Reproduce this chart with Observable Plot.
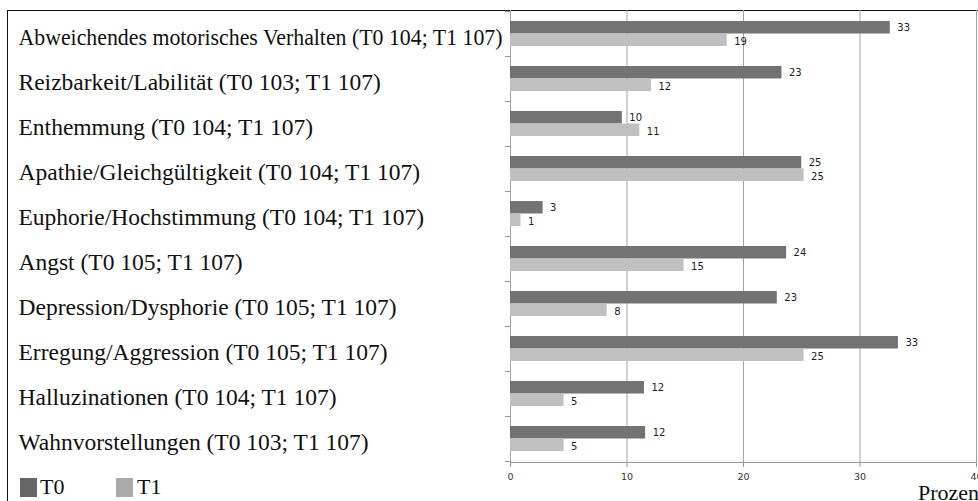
<!DOCTYPE html>
<html>
<head>
<meta charset="utf-8">
<script src="https://cdn.jsdelivr.net/npm/d3@7"></script>
<script src="https://cdn.jsdelivr.net/npm/@observablehq/plot@0.6"></script>
<style>
  html, body { margin: 0; padding: 0; background: #fff; }
  #wrap { position: relative; width: 978px; height: 501px; overflow: hidden; background: #fff; }
  #frame { position: absolute; left: 7px; top: 10px; width: 1200px; height: 800px;
           border-top: 1.5px solid #111; border-left: 1.5px solid #111; box-sizing: border-box; }
  #chart { position: absolute; left: 0; top: 0; }
  .legend { position: absolute; top: 476px; font-family: "Liberation Serif", serif; font-size: 22px; color: #111; line-height: 22px; }
  .swatch { position: absolute; width: 17px; height: 19px; top: 478px; }
  #unit { position: absolute; left: 918px; top: 483px; font-family: "Liberation Serif", serif; font-size: 22px; line-height: 20px; color: #111; white-space: nowrap; }
</style>
</head>
<body>
<div id="wrap">
  <div id="frame"></div>
  <div id="chart"></div>
  <div class="swatch" style="left:20px;background:#666;"></div>
  <div class="legend" style="left:40px;">T0</div>
  <div class="swatch" style="left:116px;background:#aaa;"></div>
  <div class="legend" style="left:137px;">T1</div>
  <div id="unit">Prozent</div>
</div>
<script>
// Neuropsychiatric symptoms, share of residents in percent at T0 and T1
const categories = [
  "Abweichendes motorisches Verhalten",
  "Reizbarkeit/Labilität",
  "Enthemmung",
  "Apathie/Gleichgültigkeit",
  "Euphorie/Hochstimmung",
  "Angst",
  "Depression/Dysphorie",
  "Erregung/Aggression",
  "Halluzinationen",
  "Wahnvorstellungen"
];
const nT0 = [104, 103, 104, 104, 104, 105, 105, 105, 104, 103];
const nT1 = [107, 107, 107, 107, 107, 107, 107, 107, 107, 107];
const valuesT0 = [32.6, 23.3, 9.6, 25.0, 2.8, 23.7, 22.9, 33.3, 11.5, 11.6];
const valuesT1 = [18.6, 12.1, 11.1, 25.2, 0.9, 14.9, 8.3, 25.2, 4.6, 4.6];
const xTicks = [0, 10, 20, 30, 40];

const rows = categories.map((c, i) => ({
  label: `${c} (T0 ${nT0[i]}; T1 ${nT1[i]})`,
  t0: valuesT0[i],
  t1: valuesT1[i]
}));
const labels = rows.map(d => d.label);

const c0 = "#737373", c1 = "#c0c0c0";
const valueFont = { fontSize: 10, fontFamily: "DejaVu Sans", fill: "#222", textAnchor: "start" };

const chart = Plot.plot({
  width: 978,
  height: 501,
  marginLeft: 510,
  marginRight: 2,
  marginTop: 10,
  marginBottom: 39,
  style: { background: "transparent", overflow: "visible" },
  x: { domain: [0, 40] },
  y: { domain: labels, padding: 0, axis: null },
  marks: [
    Plot.gridX(xTicks, { stroke: "#a3a3a3", strokeOpacity: 1 }),
    Plot.barX(rows, { y: "label", x1: 0, x2: "t0", fill: c0, insetTop: 10, insetBottom: 22.5 }),
    Plot.barX(rows, { y: "label", x1: 0, x2: "t1", fill: c1, insetTop: 22.5, insetBottom: 10 }),
    Plot.text(rows, { y: "label", x: "t0", text: d => String(Math.round(d.t0)), dx: 7, dy: -6, ...valueFont }),
    Plot.text(rows, { y: "label", x: "t1", text: d => String(Math.round(d.t1)), dx: 7, dy: 8, ...valueFont }),
    // short category separators on the left axis
    Plot.ruleY(labels, { y: d => d, x1: 0, x2: 0, insetLeft: -5, dy: -22.5, stroke: "#999" }),
    Plot.ruleY(labels.slice(-1), { y: d => d, x1: 0, x2: 0, insetLeft: -5, dy: 22.5, stroke: "#999" }),
    Plot.frame({ anchor: "bottom", stroke: "#999" }),
    Plot.axisX({ ticks: xTicks, tickSize: 5, tickPadding: 6, stroke: "#999",
                 fontSize: 9.5, fontFamily: "DejaVu Sans", fill: "#333", label: null }),
    Plot.axisY({ tickSize: 0, tickPadding: 0, textAnchor: "start", dx: -492, dy: 3,
                 fontSize: 23.5, fontFamily: "Liberation Serif", fill: "#111", label: null })
  ]
});
document.getElementById("chart").appendChild(chart);

// squeeze category labels that would run into the plot area
const maxLabelWidth = 484;
chart.querySelectorAll('g[aria-label="y-axis tick label"] text').forEach(t => {
  const w = t.getComputedTextLength();
  if (w > maxLabelWidth) {
    t.setAttribute("textLength", maxLabelWidth);
    t.setAttribute("lengthAdjust", "spacingAndGlyphs");
  }
});
</script>
</body>
</html>
